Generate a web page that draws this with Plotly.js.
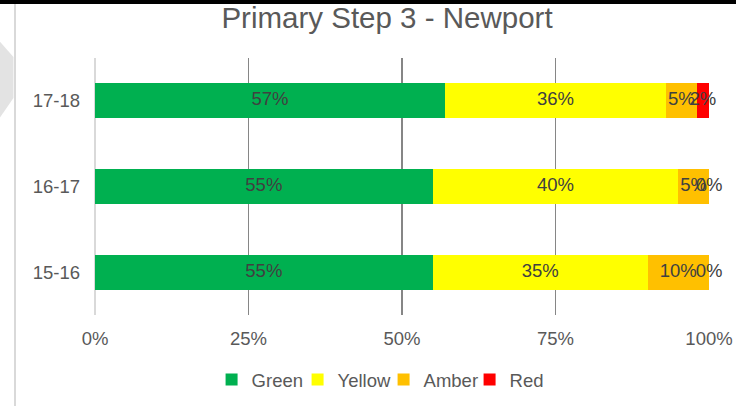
<!DOCTYPE html>
<html>
<head>
<meta charset="utf-8">
<script src="https://cdn.plot.ly/plotly-3.0.1.min.js"></script>
<style>html,body{margin:0;padding:0;background:#fff;}#chart{width:736px;height:406px;}</style>
</head>
<body>
<div id="chart"></div>
<script>
const categories = ['15-16', '16-17', '17-18'];
const seriesNames = ['Green', 'Yellow', 'Amber', 'Red'];
const green = [55, 55, 57];
const yellow = [35, 40, 36];
const amber = [10, 5, 5];
const red = [0, 0, 2];
const xTickVals = [0, 25, 50, 75, 100];
const xTickText = ['0%', '25%', '50%', '75%', '100%'];
const colors = ['#00B050', '#FFFF00', '#FFC000', '#FF0000'];

const series = [green, yellow, amber, red];
const traces = series.map((vals, i) => ({
  type: 'bar',
  orientation: 'h',
  name: seriesNames[i],
  y: categories,
  x: vals,
  marker: {color: colors[i], line: {width: 0}},
  textposition: 'none',
  hoverinfo: 'x+name'
}));

// data labels at the middle of each segment
const lx = [], ly = [], lt = [];
categories.forEach((c, ci) => {
  let cum = 0;
  series.forEach(vals => {
    const v = vals[ci];
    lx.push(cum + v / 2);
    ly.push(c);
    lt.push(v + '%');
    cum += v;
  });
});
traces.push({
  type: 'scatter', mode: 'text', x: lx, y: ly, text: lt,
  textposition: 'middle center',
  textfont: {family: 'Liberation Sans, Arial, sans-serif', size: 18.5, color: '#404040'},
  showlegend: false, hoverinfo: 'skip', cliponaxis: false
});

const layout = {
  width: 736, height: 406,
  margin: {l: 95, r: 27, t: 58, b: 91, autoexpand: false},
  paper_bgcolor: '#ffffff', plot_bgcolor: '#ffffff',
  barmode: 'stack',
  bargap: 0.59,
  font: {family: 'Liberation Sans, Arial, sans-serif', color: '#595959', size: 18.5},
  title: {text: 'Primary Step 3 - Newport', font: {size: 29.5, color: '#595959'},
          xref: 'paper', x: 0.4756, xanchor: 'center', y: 0.957, yanchor: 'middle', yref: 'container'},
  xaxis: {range: [0, 100], tickvals: xTickVals, ticktext: xTickText,
          showgrid: true, gridcolor: '#868686', gridwidth: 1.5,
          zeroline: true, zerolinecolor: '#d9d9d9', zerolinewidth: 2,
          showline: false, ticks: '', ticklabelstandoff: 10, fixedrange: true},
  yaxis: {type: 'category', showgrid: false, zeroline: false, showline: false,
          ticks: '', ticklabelstandoff: 14, fixedrange: true},
  showlegend: true,
  legend: {orientation: 'h', x: 0.47, xanchor: 'center', y: -0.253, yanchor: 'middle',
           font: {size: 18.5, color: '#595959'}, traceorder: 'normal', itemwidth: 30,
           entrywidth: 41, entrywidthmode: 'pixels'},
  shapes: [
    {type: 'rect', xref: 'paper', yref: 'paper', x0: -0.16, x1: 1.05, y0: 1.2101, y1: 1.23,
     fillcolor: '#000000', line: {width: 0}, layer: 'below'},
    {type: 'line', xref: 'paper', yref: 'paper', x0: -0.1303, x1: -0.1303, y0: -0.36, y1: 1.2101,
     line: {color: '#d9d9d9', width: 2}, layer: 'below'},
    {type: 'path', xref: 'paper', yref: 'paper',
     path: 'M -0.16,1.077 L -0.1328,1.0039 L -0.1328,0.8444 L -0.16,0.75 Z',
     fillcolor: '#e3e3e3', line: {width: 0}, layer: 'below'}
  ]
};

Plotly.newPlot('chart', traces, layout, {displayModeBar: false, staticPlot: true});
</script>
</body>
</html>
